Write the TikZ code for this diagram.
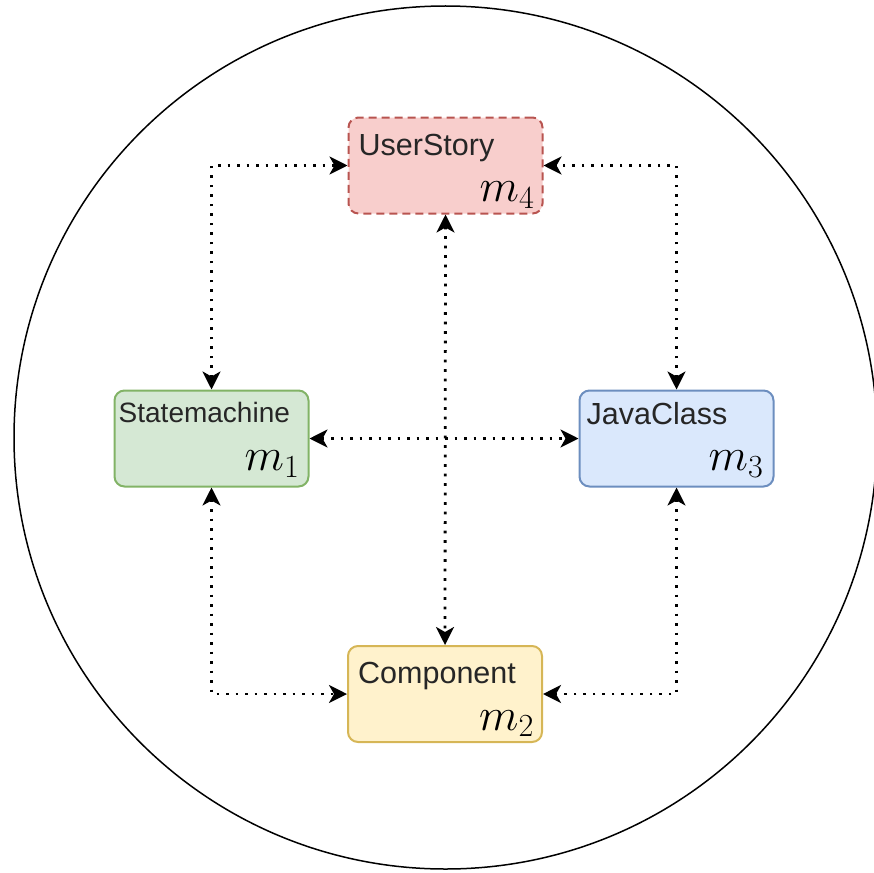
\RequirePackage{fix-cm}
\documentclass[tikz,border=0pt]{standalone}
\usepackage[no-math]{fontspec}
\setmainfont{Liberation Sans}
\usetikzlibrary{arrows.meta}

\definecolor{redfill}{HTML}{F8CECC}\definecolor{redline}{HTML}{B85450}
\definecolor{greenfill}{HTML}{D5E8D4}\definecolor{greenline}{HTML}{82B366}
\definecolor{bluefill}{HTML}{DAE8FC}\definecolor{blueline}{HTML}{6C8EBF}
\definecolor{yellowfill}{HTML}{FFF2CC}\definecolor{yellowline}{HTML}{D6B656}

\begin{document}
\begin{tikzpicture}[x=1pt,y=-1pt,
  model/.style={draw, line width=2pt, rounded corners=10pt,
    minimum width=194pt, minimum height=96pt, inner sep=0pt},
  kind/.style={anchor=base west, inner sep=0pt, text=black!85,
    font=\fontsize{30.5}{36}\selectfont},
  idx/.style={anchor=base east, inner sep=0pt,
    font=\fontsize{46}{52}\selectfont},
  conn/.style={line width=2.8pt, dash pattern=on 2.8pt off 6.7pt,
    {Stealth[length=18pt,width=18pt,inset=5pt]}-{Stealth[length=18pt,width=18pt,inset=5pt]}}
]
  \useasboundingbox (0,0) rectangle (874,872);
  \clip (0,0) rectangle (874,872);

  % enclosing circle
  \draw[line width=1.5pt] (445.5,437.5) circle[radius=431.5pt];

  % the four models
  \node[model, fill=redfill, draw=redline, dash pattern=on 8pt off 5pt] (us) at (445.5,165.5) {};
  \node[model, fill=greenfill, draw=greenline] (sm) at (211.5,438.5) {};
  \node[model, fill=bluefill, draw=blueline] (jc) at (676.5,438.5) {};
  \node[model, fill=yellowfill, draw=yellowline] (co) at (445,694) {};

  % names and indices
  \node[kind] (usT) at ([xshift=11pt,yshift=-39pt]us.north west) {UserStory};
  \node[idx] (usM) at ([xshift=-9pt,yshift=13pt]us.south east) {$m_4$};
  \node[kind, font=\fontsize{28}{34}\selectfont] (smT) at ([xshift=5pt,yshift=-33pt]sm.north west) {Statemachine};
  \node[idx] (smM) at ([xshift=-10pt,yshift=17pt]sm.south east) {$m_1$};
  \node[kind] (jcT) at ([xshift=8pt,yshift=-35pt]jc.north west) {JavaClass};
  \node[idx] (jcM) at ([xshift=-11pt,yshift=17pt]jc.south east) {$m_3$};
  \node[kind] (coT) at ([xshift=11pt,yshift=-38pt]co.north west) {Component};
  \node[idx] (coM) at ([xshift=-9pt,yshift=13pt]co.south east) {$m_2$};

  % relations
  \draw[conn] (sm.north) |- (us.west);
  \draw[conn] (jc.north) |- (us.east);
  \draw[conn] (us.south) -- (co.north);
  \draw[conn] (sm.east) -- (jc.west);
  \draw[conn] (sm.south) |- (co.west);
  \draw[conn] (jc.south) |- (co.east);
\end{tikzpicture}
\end{document}
